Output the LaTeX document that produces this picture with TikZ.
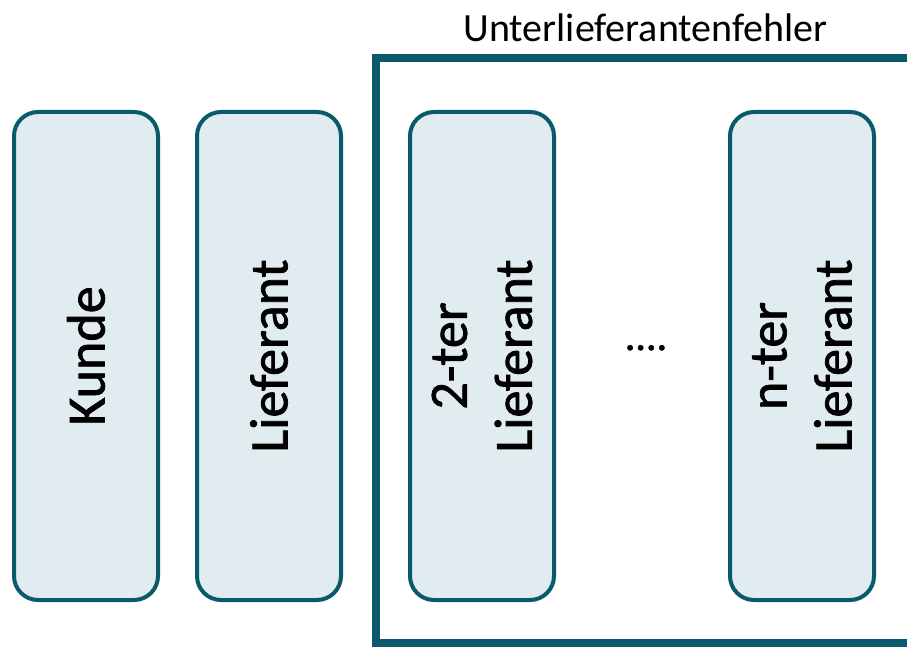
\documentclass[tikz,border=0pt]{standalone}
\usepackage{fontspec}
\setmainfont{Carlito}
\newfontface\halbfett{Carlito}[FakeBold=1.4]
\usetikzlibrary{positioning}
\definecolor{rahmen}{HTML}{0A5A6C}
\definecolor{kasten}{HTML}{E1ECF0}
\tikzset{Stufe/.style={draw=rahmen,fill=kasten,line width=4pt,rounded corners=24pt,rotate=90,
    minimum width=488pt,minimum height=144pt,inner sep=0pt,align=center,
    font=\halbfett\fontsize{54}{65}\selectfont}}
\begin{document}
\begin{tikzpicture}[x=1pt,y=1pt]
            \useasboundingbox (0,0) rectangle (907,646);
            \clip (0,0) rectangle (907,646);
            \draw[rahmen,line width=8pt] (915,3.5) -- (376,3.5) -- (376,587.5) -- (915,587.5);
            \node[anchor=base,font=\fontsize{40}{48}\selectfont] (titel) at (645.5,604) {Unterlieferantenfehler};
            \node[Stufe] (kunde) at (86,290) {Kunde};
            \node[Stufe] (lief) at (269,290) {Lieferant};
            \node[Stufe] (lief2) at (482,290) {2-ter\\Lieferant};
            \node[Stufe] (liefn) at (802,290) {n-ter\\Lieferant};
            \node[anchor=base,font=\halbfett\fontsize{42}{48}\selectfont] (punkte) at (646,296) {....};
        \end{tikzpicture}
\end{document}
